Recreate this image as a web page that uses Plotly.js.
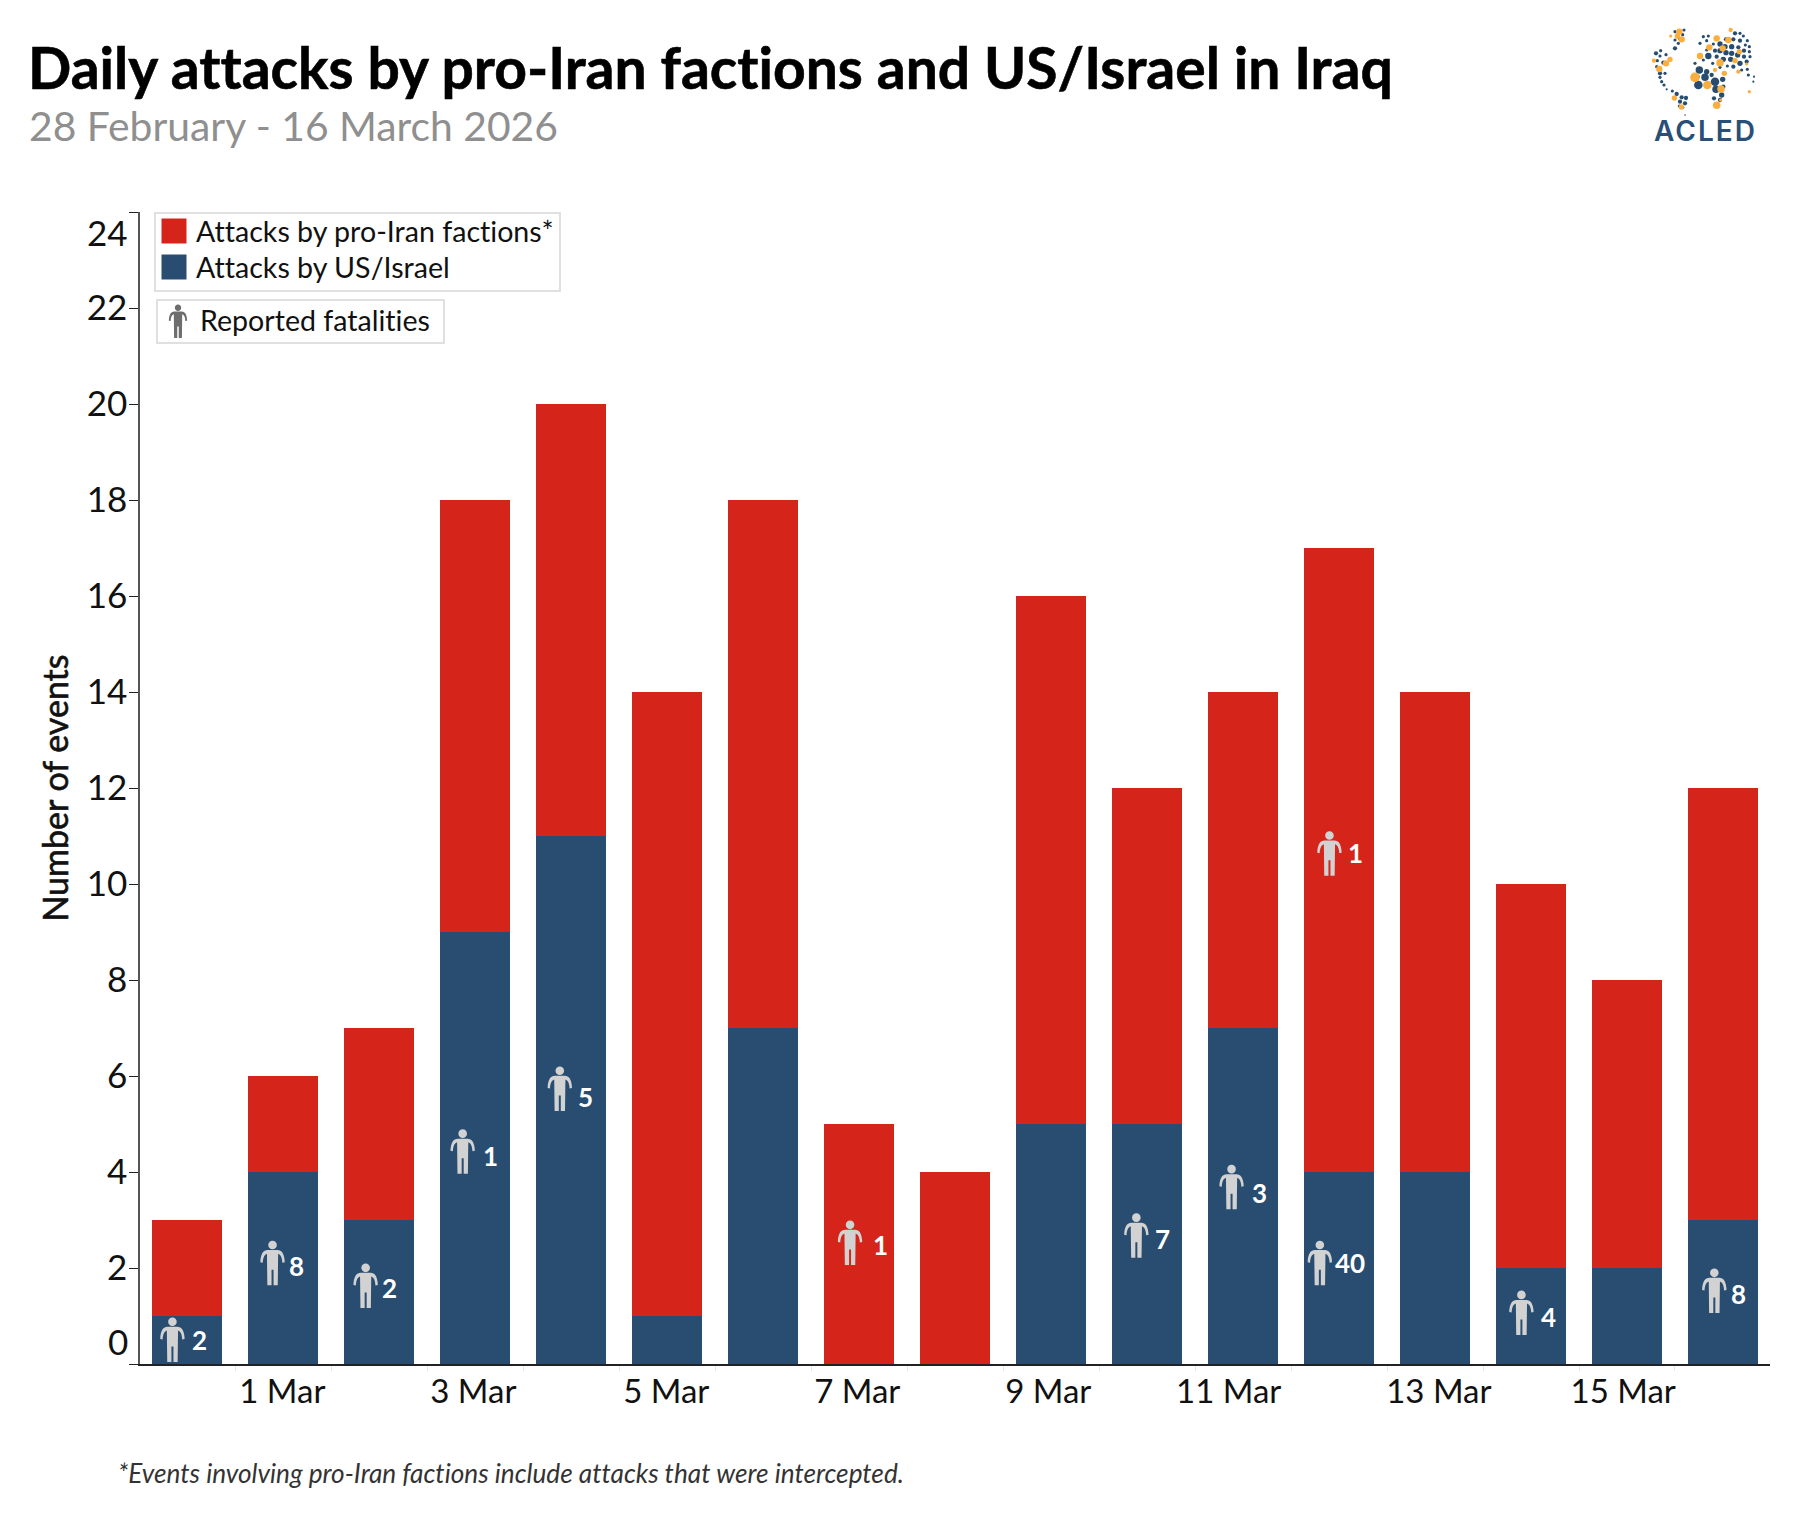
<!DOCTYPE html>
<html>
<head>
<meta charset="utf-8">
<script src="https://cdn.plot.ly/plotly-3.0.1.min.js"></script>
<style>
html,body{margin:0;padding:0;background:#fff}
#chart{width:1800px;height:1513px}
svg text, svg tspan{font-variant-ligatures:none !important;font-feature-settings:"liga" 0,"clig" 0 !important}
.ytitle{paint-order:stroke;stroke:#111;stroke-width:.6px}
.gtitle{paint-order:stroke;stroke:#000;stroke-width:.6px}
</style>
</head>
<body>
<div id="chart"></div>
<script>
// ---- data ----
const dayIndex = [0,1,2,3,4,5,6,7,8,9,10,11,12,13,14,15,16];
const dayNames = ["28 Feb","1 Mar","2 Mar","3 Mar","4 Mar","5 Mar","6 Mar","7 Mar","8 Mar","9 Mar","10 Mar","11 Mar","12 Mar","13 Mar","14 Mar","15 Mar","16 Mar"];
const usIsrael = [1,4,3,9,11,1,7,0,0,5,5,7,4,4,2,2,3];
const proIran = [2,2,4,9,9,13,11,5,4,11,7,7,13,10,8,6,9];
const xTickPositions = [0.99,2.98,4.99,6.98,8.97,10.85,13.04,14.96];
const xTickLabels = ["1 Mar","3 Mar","5 Mar","7 Mar","9 Mar","11 Mar","13 Mar","15 Mar"];
const yTickValues = [0,2,4,6,8,10,12,14,16,18,20,22,24];
const yTickLabels = ["","2","4","6","8","10","12","14","16","18","20","22",""];
const fatalityCounts = ["2","8","2","1","5","1","7","3","40","1","4","8"];
const iconX = [-0.155,0.888,1.858,2.869,3.881,6.905,9.888,10.88,11.80,11.90,13.90,15.91];
const iconY = [0.50,2.10,1.625,4.42,5.73,2.52,2.67,3.68,2.10,10.63,1.06,1.52];
const labelX = [0.126,1.138,2.108,3.161,4.152,7.218,10.16,11.17,12.11,12.17,14.18,16.16];
const labelY = [0.50,2.04,1.58,4.33,5.56,2.48,2.60,3.56,2.10,10.65,0.98,1.46];

// ---- logo dots: [x, y, r] in a 390x390 box ----
const logoNavy = [[132,30,3],[128,44,3],[105,35,3],[105,60,3],[115,70,3],[105,85,4],[118,55,3],[62,92,3],[48,100,4],[60,108,3],[78,104,3],[52,122,3],[70,128,4],[50,140,3],[60,160,4],[75,160,3],[60,172,3],[65,185,3],[72,195,3],[80,208,2],[97,213,3],[110,222,4],[125,232,4],[138,234,4],[120,245,4],[135,250,4],[128,262,3],[118,258,3],[135,285,1.5],[190,50,3],[205,48,3],[180,70,3],[200,62,3],[220,72,3],[240,72,5],[258,58,4],[285,40,4],[300,40,3],[310,48,3],[322,62,3],[280,58,4],[300,62,4],[316,75,3],[328,80,3],[255,80,5],[275,80,5],[295,82,4],[312,92,4],[328,95,3],[200,90,3],[225,92,4],[240,92,5],[258,98,5],[275,100,5],[293,105,5],[312,110,4],[330,110,3],[205,108,6],[230,110,4],[250,118,5],[272,118,5],[300,130,5],[320,125,4],[190,120,3],[218,130,3],[165,130,3],[178,150,7],[200,155,5],[215,165,4],[240,142,3],[262,138,3],[280,140,4],[175,170,3],[195,172,7],[225,185,8],[248,178,5],[175,195,8],[228,208,7],[250,200,4],[222,235,4],[245,225,5],[240,240,4],[305,150,3],[322,148,3],[325,165,3],[342,170,2],[340,185,2]];
const logoOrange = [[118,35,6],[112,48,5],[125,58,6],[92,48,3],[42,122,4],[78,130,6],[90,118,5],[58,147,6],[103,234,5],[124,261,5],[272,30,4],[230,55,6],[265,60,6],[208,82,6],[248,85,6],[298,95,5],[180,108,6],[240,128,7],[285,122,5],[225,150,4],[253,160,5],[165,172,9],[202,195,8],[243,207,7],[295,155,4],[230,256,7],[242,240,3],[328,215,3],[320,132,3]];

// ---- page geometry ----
const W = 1800, H = 1513;
const M = {l:140, r:30, t:212, b:149};
const PW = W-M.l-M.r, PH = H-M.t-M.b;
const px = v => (v-M.l)/PW;
const py = v => 1-(v-M.t)/PH;

const RED = "#d5241a", NAVY = "#284d70";

function personPath(s){
  const f = n => (n*s).toFixed(2);
  const seg = [
    ["M",-5,13.2],["L",5,13.2],["C",9,13,11.8,10,12.2,1],["L",9.8,0.5],["C",9.5,6,8,8.5,5.6,9.5],
    ["L",5.2,-22],["L",1,-22],["L",1,-6.5],["L",-1,-6.5],["L",-1,-22],["L",-5.2,-22],["L",-5.6,9.5],
    ["C",-8,8.5,-9.5,6,-9.8,0.5],["L",-12.2,1],["C",-11.8,10,-9,13,-5,13.2],["Z"],
    ["M",4.3,18.2],["C",4.3,20.6,2.4,22.5,0,22.5],["C",-2.4,22.5,-4.3,20.6,-4.3,18.2],
    ["C",-4.3,15.8,-2.4,13.9,0,13.9],["C",2.4,13.9,4.3,15.8,4.3,18.2],["Z"]
  ];
  return seg.map(a => a[0]+a.slice(1).map(f).join(",")).join(" ");
}

const traces = [
  {type:"bar", name:"Attacks by US/Israel", x:dayIndex, y:usIsrael, customdata:dayNames,
   marker:{color:NAVY, line:{width:0}}, hovertemplate:"%{customdata}: %{y}<extra>US/Israel</extra>"},
  {type:"bar", name:"Attacks by pro-Iran factions*", x:dayIndex, y:proIran, customdata:dayNames,
   marker:{color:RED, line:{width:0}}, hovertemplate:"%{customdata}: %{y}<extra>Pro-Iran factions</extra>"}
];

const shapes = iconX.map((x,i) => ({
  type:"path", layer:"above", xref:"x", yref:"y",
  xsizemode:"pixel", ysizemode:"pixel", xanchor:x, yanchor:iconY[i],
  path:personPath(1), fillcolor:"#d2d2d2", line:{width:0}
}));
// fatalities key box
shapes.push({type:"rect", xref:"paper", yref:"paper", x0:px(157), x1:px(444), y0:py(343), y1:py(300),
  line:{color:"#e0e0e0", width:2}, fillcolor:"#fff", layer:"above"});
shapes.push({type:"path", layer:"above", xref:"paper", yref:"paper", xsizemode:"pixel", ysizemode:"pixel",
  xanchor:px(178), yanchor:py(321.5), path:personPath(0.75), fillcolor:"#6d6d6d", line:{width:0}});

const annotations = fatalityCounts.map((t,i) => ({
  text:t, x:labelX[i], y:labelY[i], xref:"x", yref:"y", showarrow:false,
  xanchor:"center", yanchor:"middle", font:{family:"Lato", size:26, color:"#fff", weight:700}
}));
annotations.push(
  {text:"24", xref:"paper", yref:"paper", x:0, y:py(232), xanchor:"right", yanchor:"middle", xshift:-10.5, showarrow:false, font:{family:"Lato", size:35, color:"#111"}},
  {text:"0", xref:"paper", yref:"paper", x:0, y:py(1341), xanchor:"right", yanchor:"middle", xshift:-10.5, showarrow:false, font:{family:"Lato", size:35, color:"#111"}},
  {text:"Reported fatalities", xref:"paper", yref:"paper", x:px(198), y:py(319.5), xanchor:"left", yanchor:"middle", showarrow:false, font:{family:"Lato", size:28.6, color:"#111"}},
  {text:"<i>*Events involving pro-Iran factions include attacks that were intercepted.</i>", xref:"paper", yref:"paper", x:px(116), y:py(1472.5), xanchor:"left", yanchor:"middle", showarrow:false, font:{family:"Lato", size:26.2, color:"#333"}},
  {text:'<span style="letter-spacing:2px">ACLED</span>', xref:"paper", yref:"paper", x:px(1705), y:py(130.5), xanchor:"center", yanchor:"middle", showarrow:false, font:{family:"Inter", size:28, color:"#2a4f76", weight:600}},
  {text:"28 February - 16 March 2026", xref:"paper", yref:"paper", x:px(27), y:py(125), xanchor:"left", yanchor:"middle", showarrow:false, font:{family:"Lato", size:40.8, color:"#8f8f8f"}}
);

function dots(list, fill){
  return list.map(d => `<circle cx="${d[0]}" cy="${d[1]}" r="${d[2]*1.6}" fill="${fill}"/>`).join("");
}
const logoSvg = `<svg xmlns="http://www.w3.org/2000/svg" width="390" height="300" viewBox="0 0 390 300"><defs><filter id="b"><feGaussianBlur stdDeviation="1.2"/></filter></defs><g filter="url(#b)">${dots(logoNavy,"#284d70")}${dots(logoOrange,"#f9ae3c")}</g></svg>`;

const layout = {
  width:W, height:H, autosize:false, paper_bgcolor:"#fff", plot_bgcolor:"#fff",
  margin:{l:M.l, r:M.r, t:M.t, b:M.b, pad:0},
  barmode:"stack", bargap:0.27,
  font:{family:"Lato", color:"#111"},
  title:{text:"<b>Daily attacks by pro-Iran factions and US/Israel in Iraq</b>", xref:"container", yref:"container",
    x:28/W, xanchor:"left", y:1-69/H, yanchor:"middle", font:{family:"Lato", size:57, color:"#000"}, automargin:false},
  xaxis:{range:[-0.493,16.49], tickmode:"array", tickvals:xTickPositions, ticktext:xTickLabels, ticks:"",
    tickangle:0, ticklabelstandoff:-3, tickfont:{family:"Lato", size:33, color:"#111"},
    showgrid:false, zeroline:false, showline:true, linecolor:"#222", linewidth:2, fixedrange:true,
    minor:{tickmode:"linear", tick0:0.5, dtick:1, ticks:"outside", ticklen:5, tickcolor:"#e6e6e6", tickwidth:1, showgrid:false}},
  yaxis:{range:[0,24], tickmode:"array", tickvals:yTickValues, ticktext:yTickLabels, ticks:"outside", ticklen:9, tickwidth:1.2, tickcolor:"#222",
    ticklabelstandoff:-5, tickfont:{family:"Lato", size:35, color:"#111"}, showgrid:false, zeroline:false, showline:true, linecolor:"#555", linewidth:1.5, fixedrange:true,
    title:{text:"Number of events", standoff:8, font:{family:"Lato", size:34, color:"#111"}}},
  legend:{x:px(154), y:1, xanchor:"left", yanchor:"top", traceorder:"reversed", bgcolor:"#fff", bordercolor:"#e0e0e0", borderwidth:2,
    font:{family:"Lato", size:28.6, color:"#111"}, itemclick:false, itemdoubleclick:false},
  showlegend:true,
  shapes, annotations,
  images:[{source:"data:image/svg+xml;charset=utf-8,"+encodeURIComponent(logoSvg), xref:"paper", yref:"paper",
    x:px(1640), y:py(20), sizex:130/PW, sizey:100/PH, xanchor:"left", yanchor:"top", sizing:"stretch", layer:"above"}]
};

const gd = document.getElementById("chart");
// Tighten the native legend to the reference's size: larger swatches, closer rows.
function tuneLegend(){
  document.querySelectorAll(".legend .legendbar, .legend path.legendundefined").forEach(p => p.setAttribute("d","M10.5,12.5H-14.5V-12.5H10.5Z"));
  const rows = [19, 55];
  document.querySelectorAll(".legend .traces").forEach((g,i) => {
    const x = (g.getAttribute("transform")||"").match(/translate\(([-\d.]+)/);
    g.setAttribute("transform", `translate(${x?x[1]:0},${rows[i]})`);
  });
  const bg = document.querySelector(".legend rect.bg");
  if(bg) bg.setAttribute("height", 78);
}
Plotly.newPlot(gd, traces, layout, {displayModeBar:false, responsive:false}).then(()=>{
  tuneLegend();
  gd.on("plotly_afterplot", tuneLegend);
});
</script>
</body>
</html>
